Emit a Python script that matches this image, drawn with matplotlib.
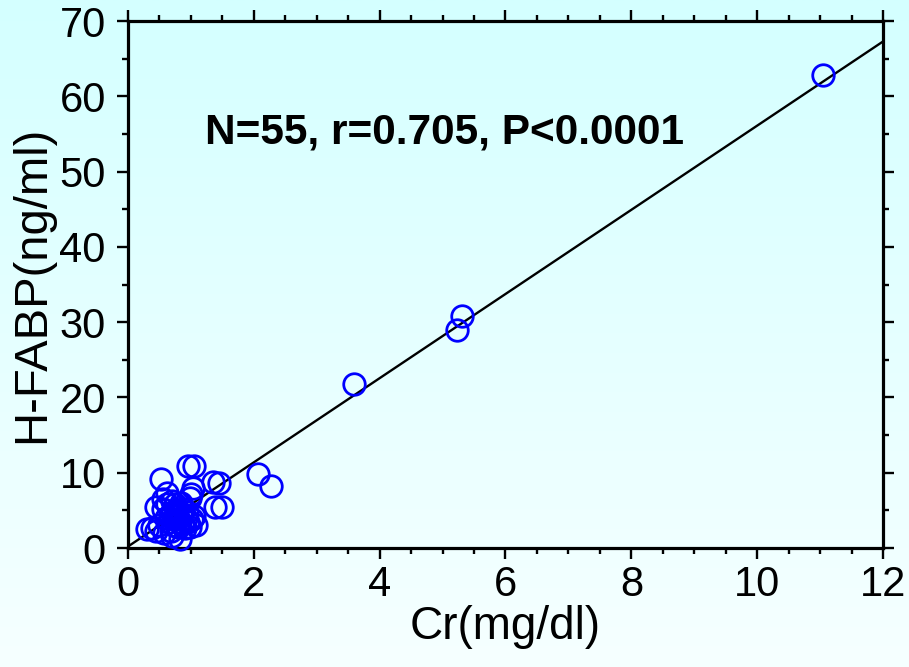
import numpy as np
import matplotlib
matplotlib.use("Agg")
import matplotlib.pyplot as plt
from matplotlib.colors import LinearSegmentedColormap
from matplotlib.ticker import MultipleLocator

# ---- data ----
cr = [11.05, 5.31, 5.23, 3.59, 2.07, 2.27,
      0.95, 1.05, 0.52, 1.35, 1.45, 1.03, 1.38, 1.50,
      0.62, 0.56, 0.70, 0.98, 1.00,
      0.30, 0.38, 0.45, 0.50, 0.45, 0.55, 0.60, 0.65, 0.70, 0.72,
      0.75, 0.78, 0.80, 0.82, 0.85, 0.88, 0.90, 0.92, 0.95, 0.98,
      1.02, 1.05, 0.68, 0.58, 0.75, 0.85, 0.62, 0.72, 0.80, 1.08,
      0.78, 0.66, 0.88, 0.83, 0.93, 0.70]
hfabp = [62.8, 30.8, 29.0, 21.8, 9.8, 8.3,
         10.9, 10.9, 9.2, 8.8, 8.7, 8.0, 5.5, 5.5,
         7.3, 6.5, 6.3, 6.7, 7.2,
         2.5, 2.6, 2.3, 3.0, 5.5, 5.2, 4.0, 3.5, 4.8, 3.0,
         4.2, 5.0, 3.8, 1.2, 4.5, 3.2, 2.6, 4.0, 3.5, 2.8,
         3.8, 4.2, 2.2, 2.0, 5.8, 6.0, 5.8, 3.8, 2.8, 3.0,
         4.6, 4.4, 5.2, 3.4, 4.8, 1.6]

# regression line as drawn
FIT_SLOPE = 5.59
FIT_INTERCEPT = 0.2
FIT_X = [0.0, 12.0]

STATS_TEXT = "N=55, r=0.705, P<0.0001"

TICK_FONT = ["Liberation Sans Narrow", "Liberation Sans", "DejaVu Sans"]
LABEL_FONT = ["Liberation Sans", "DejaVu Sans"]


def main():
    fig = plt.figure(figsize=(9.09, 6.67), dpi=100)

    # light cyan gradient background
    bg = fig.add_axes([0, 0, 1, 1], zorder=-10)
    cmap = LinearSegmentedColormap.from_list("bg", ["#d4ffff", "#f6ffff"])
    bg.imshow(np.linspace(0, 1, 256).reshape(-1, 1), aspect="auto", cmap=cmap,
              extent=[0, 1, 0, 1])
    bg.axis("off")

    ax = fig.add_axes([0.1408, 0.1784, 0.8306, 0.7901])
    ax.set_facecolor("none")

    ax.plot(FIT_X, [FIT_INTERCEPT + FIT_SLOPE * x for x in FIT_X],
            color="black", lw=1.7, zorder=2)
    ax.plot(cr, hfabp, "o", ms=15.5, mfc="none", mec="#0000ff", mew=2.0,
            zorder=3, clip_on=False)

    ax.set_xlim(0, 12)
    ax.set_ylim(0, 70)
    ax.xaxis.set_major_locator(MultipleLocator(2))
    ax.xaxis.set_minor_locator(MultipleLocator(0.5))
    ax.yaxis.set_major_locator(MultipleLocator(10))
    ax.yaxis.set_minor_locator(MultipleLocator(5))

    for s in ax.spines.values():
        s.set_linewidth(2.3)
    ax.tick_params(which="both", direction="out", top=True, right=True,
                   width=1.7, colors="black")
    ax.tick_params(which="major", length=8)
    ax.tick_params(which="minor", length=4.5)
    ax.tick_params(axis="x", which="major", pad=4)
    ax.tick_params(axis="y", which="major", pad=8)

    for lab in ax.get_xticklabels() + ax.get_yticklabels():
        lab.set_family(TICK_FONT)
        lab.set_fontsize(30)

    ax.set_xlabel("Cr(mg/dl)", family=LABEL_FONT, fontsize=33, labelpad=0)
    ax.set_ylabel("H-FABP(ng/ml)", family=LABEL_FONT, fontsize=34, labelpad=4)

    ax.text(1.22, 55.2, STATS_TEXT, family=LABEL_FONT, fontsize=30.5,
            fontweight="bold", va="center", ha="left")

    fig.savefig("out.png", dpi=100)
    plt.close(fig)


if __name__ == "__main__":
    main()
